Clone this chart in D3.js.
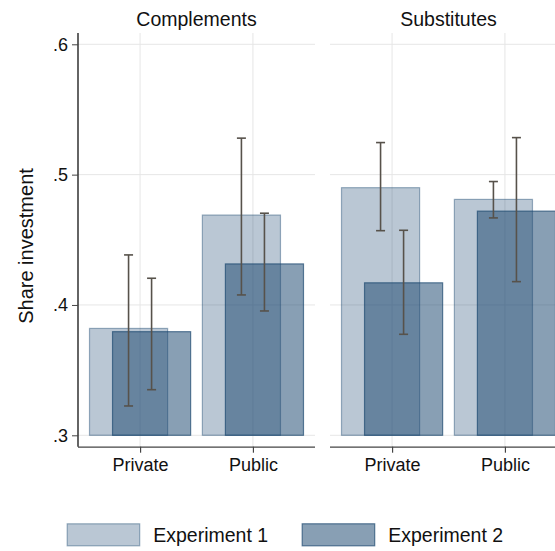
<!DOCTYPE html>
<html><head><meta charset="utf-8">
<script src="https://cdn.jsdelivr.net/npm/d3@7"></script>
<style>body{margin:0;background:#fff}svg{display:block;font-family:"Liberation Sans",Arial,sans-serif}</style>
</head><body>
<svg id="c" width="555" height="551"></svg>
<script>
const panels = ["Complements", "Substitutes"];
const categories = ["Private", "Public"];
const seriesNames = ["Experiment 1", "Experiment 2"];
// means per panel per category
const exp1Mean = [[0.382, 0.469], [0.490, 0.481]];
const exp2Mean = [[0.3795, 0.4315], [0.417, 0.472]];
const exp1Low  = [[0.3225, 0.4077], [0.457, 0.4668]];
const exp1High = [[0.4384, 0.528], [0.5246, 0.4947]];
const exp2Low  = [[0.335, 0.3954], [0.3775, 0.4179]];
const exp2High = [[0.4205, 0.4704], [0.4573, 0.5284]];
const yTicks = [0.3, 0.4, 0.5, 0.6];
const yTickLabels = [".3", ".4", ".5", ".6"];

const svg = d3.select("#c");
const navy = "#1a476f";
const panelW = 237, panelTop = 33, panelBottom = 446.7;
const panelX = [78, 330];
const y = d3.scaleLinear().domain([0.3, 0.6]).range([435.3, 44.3]);
const x = d3.scalePoint().domain(categories).range([0, panelW]).padding(0.55);
const step = x.step();
const barW = 0.692 * step, off = 0.102 * step;

const series = [
  {mean: exp1Mean, lo: exp1Low, hi: exp1High, dx: -off, fo: 0.3, so: 0.42},
  {mean: exp2Mean, lo: exp2Low, hi: exp2High, dx: off, fo: 0.52, so: 0.68}
];

panels.forEach((p, pi) => {
  const g = svg.append("g").attr("transform", `translate(${panelX[pi]},0)`);
  g.selectAll(".hg").data(yTicks).join("line")
    .attr("x1", 0).attr("x2", panelW).attr("y1", d => y(d)).attr("y2", d => y(d))
    .attr("stroke", "#e6e6e6").attr("stroke-width", 1);
  g.selectAll(".vg").data(categories).join("line")
    .attr("x1", d => x(d)).attr("x2", d => x(d)).attr("y1", panelTop).attr("y2", panelBottom)
    .attr("stroke", "#e6e6e6").attr("stroke-width", 1);
  series.forEach(s => {
    g.selectAll(null).data(categories).join("rect")
      .attr("x", d => x(d) + s.dx - barW / 2)
      .attr("width", barW)
      .attr("y", (d, i) => y(s.mean[pi][i]))
      .attr("height", (d, i) => y(0.3) - y(s.mean[pi][i]))
      .attr("fill", navy).attr("fill-opacity", s.fo)
      .attr("stroke", navy).attr("stroke-opacity", s.so).attr("stroke-width", 1.2);
  });
  series.forEach(s => {
    const eg = g.selectAll(null).data(categories).join("g")
      .attr("stroke", "#57524b").attr("stroke-width", 1.6).attr("fill", "none");
    eg.append("line").attr("x1", d => x(d) + s.dx).attr("x2", d => x(d) + s.dx)
      .attr("y1", (d, i) => y(s.lo[pi][i])).attr("y2", (d, i) => y(s.hi[pi][i]));
    eg.append("line").attr("x1", d => x(d) + s.dx - 4.5).attr("x2", d => x(d) + s.dx + 4.5)
      .attr("y1", (d, i) => y(s.lo[pi][i])).attr("y2", (d, i) => y(s.lo[pi][i]));
    eg.append("line").attr("x1", d => x(d) + s.dx - 4.5).attr("x2", d => x(d) + s.dx + 4.5)
      .attr("y1", (d, i) => y(s.hi[pi][i])).attr("y2", (d, i) => y(s.hi[pi][i]));
  });
  const xa = g.append("g").attr("transform", `translate(0,${panelBottom})`)
    .call(d3.axisBottom(x).tickSize(6).tickPadding(6).tickSizeOuter(0));
  xa.select(".domain").attr("stroke", "#444").attr("stroke-width", 1.3).attr("d", `M0,0.5H${panelW}`);
  xa.selectAll(".tick line").attr("stroke", "#444").attr("stroke-width", 1.2);
  xa.selectAll(".tick text").attr("font-size", 18).attr("fill", "#111")
    .attr("font-family", '"Liberation Sans",Arial,sans-serif');
  if (pi === 0) {
    const ya = g.append("g")
      .call(d3.axisLeft(y).tickValues(yTicks).tickFormat((d, i) => yTickLabels[i]).tickSize(6).tickPadding(4).tickSizeOuter(0));
    ya.select(".domain").attr("stroke", "#111").attr("stroke-width", 1.3)
      .attr("d", `M0,${panelTop}V${panelBottom}`);
    ya.selectAll(".tick line").attr("stroke", "#444");
    ya.selectAll(".tick text").attr("font-size", 18).attr("fill", "#111")
      .attr("font-family", '"Liberation Sans",Arial,sans-serif');
  }
  g.append("text").attr("x", panelW / 2).attr("y", 26).attr("text-anchor", "middle")
    .attr("font-size", 19.5).attr("fill", "#111").text(p);
});

svg.append("text").attr("transform", "translate(33,246) rotate(-90)")
  .attr("text-anchor", "middle").attr("font-size", 20).attr("fill", "#111").text("Share investment");

const legX = [66.7, 301.7];
seriesNames.forEach((n, i) => {
  const lg = svg.append("g").attr("transform", `translate(${legX[i]},523.3)`);
  lg.append("rect").attr("x", 0.5).attr("y", 0.5).attr("width", 72.5).attr("height", 22)
    .attr("fill", navy).attr("fill-opacity", series[i].fo)
    .attr("stroke", navy).attr("stroke-opacity", series[i].so).attr("stroke-width", 1.2);
  lg.append("text").attr("x", 86.5).attr("y", 18.6).attr("font-size", 19.5).attr("fill", "#111").text(n);
});
</script>
</body></html>
